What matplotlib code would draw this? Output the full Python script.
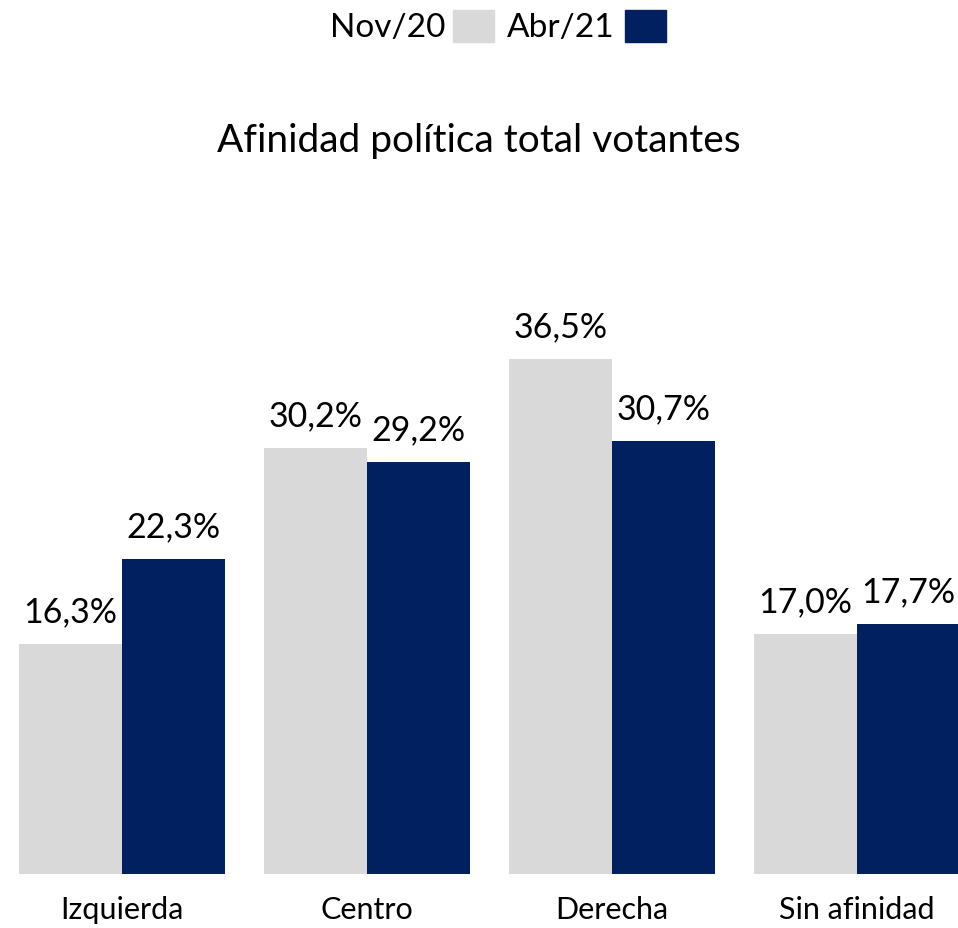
import matplotlib.pyplot as plt
import numpy as np

plt.rcParams['font.family'] = ['Lato', 'DejaVu Sans']

categories = ['Izquierda', 'Centro', 'Derecha', 'Sin afinidad']
series_names = ['Nov/20', 'Abr/21']
nov20 = [16.3, 30.2, 36.5, 17.0]
abr21 = [22.3, 29.2, 30.7, 17.7]
colors = ['#D9D9D9', '#002060']

fig = plt.figure(figsize=(9.58, 9.29), dpi=100)
ax = fig.add_axes([0, 0.058, 1, 0.942])

x = np.arange(len(categories))
w = 0.42
for vals, off, c in [(nov20, -w / 2, colors[0]), (abr21, w / 2, colors[1])]:
    bars = ax.bar(x + off, vals, width=w, color=c)
    for b, v in zip(bars, vals):
        ax.text(b.get_x() + b.get_width() / 2, v + 1.2, f"{v:.1f}%".replace('.', ','),
                ha='center', va='bottom', fontsize=24.5, clip_on=False)

ax.set_xlim(-0.498, 3.412)
ax.set_ylim(0, 62.0)
ax.axis('off')

for xi, cat in zip(x, categories):
    ax.text(xi, -2.5, cat, ha='center', va='center', fontsize=22)

fig.text(0.5, 0.848, 'Afinidad política total votantes', ha='center', va='center', fontsize=28)

# legend drawn manually: text then square
fig.text(445 / 958, 1 - 28 / 929, series_names[0], ha='right', va='center', fontsize=24)
fig.patches.append(plt.Rectangle((453 / 958, 1 - 43 / 929), 41 / 958, 32 / 929,
                                 transform=fig.transFigure, color=colors[0]))
fig.text(615 / 958, 1 - 28 / 929, series_names[1], ha='right', va='center', fontsize=24)
fig.patches.append(plt.Rectangle((625 / 958, 1 - 43 / 929), 41 / 958, 32 / 929,
                                 transform=fig.transFigure, color=colors[1]))

fig.savefig('out.png', dpi=100)
